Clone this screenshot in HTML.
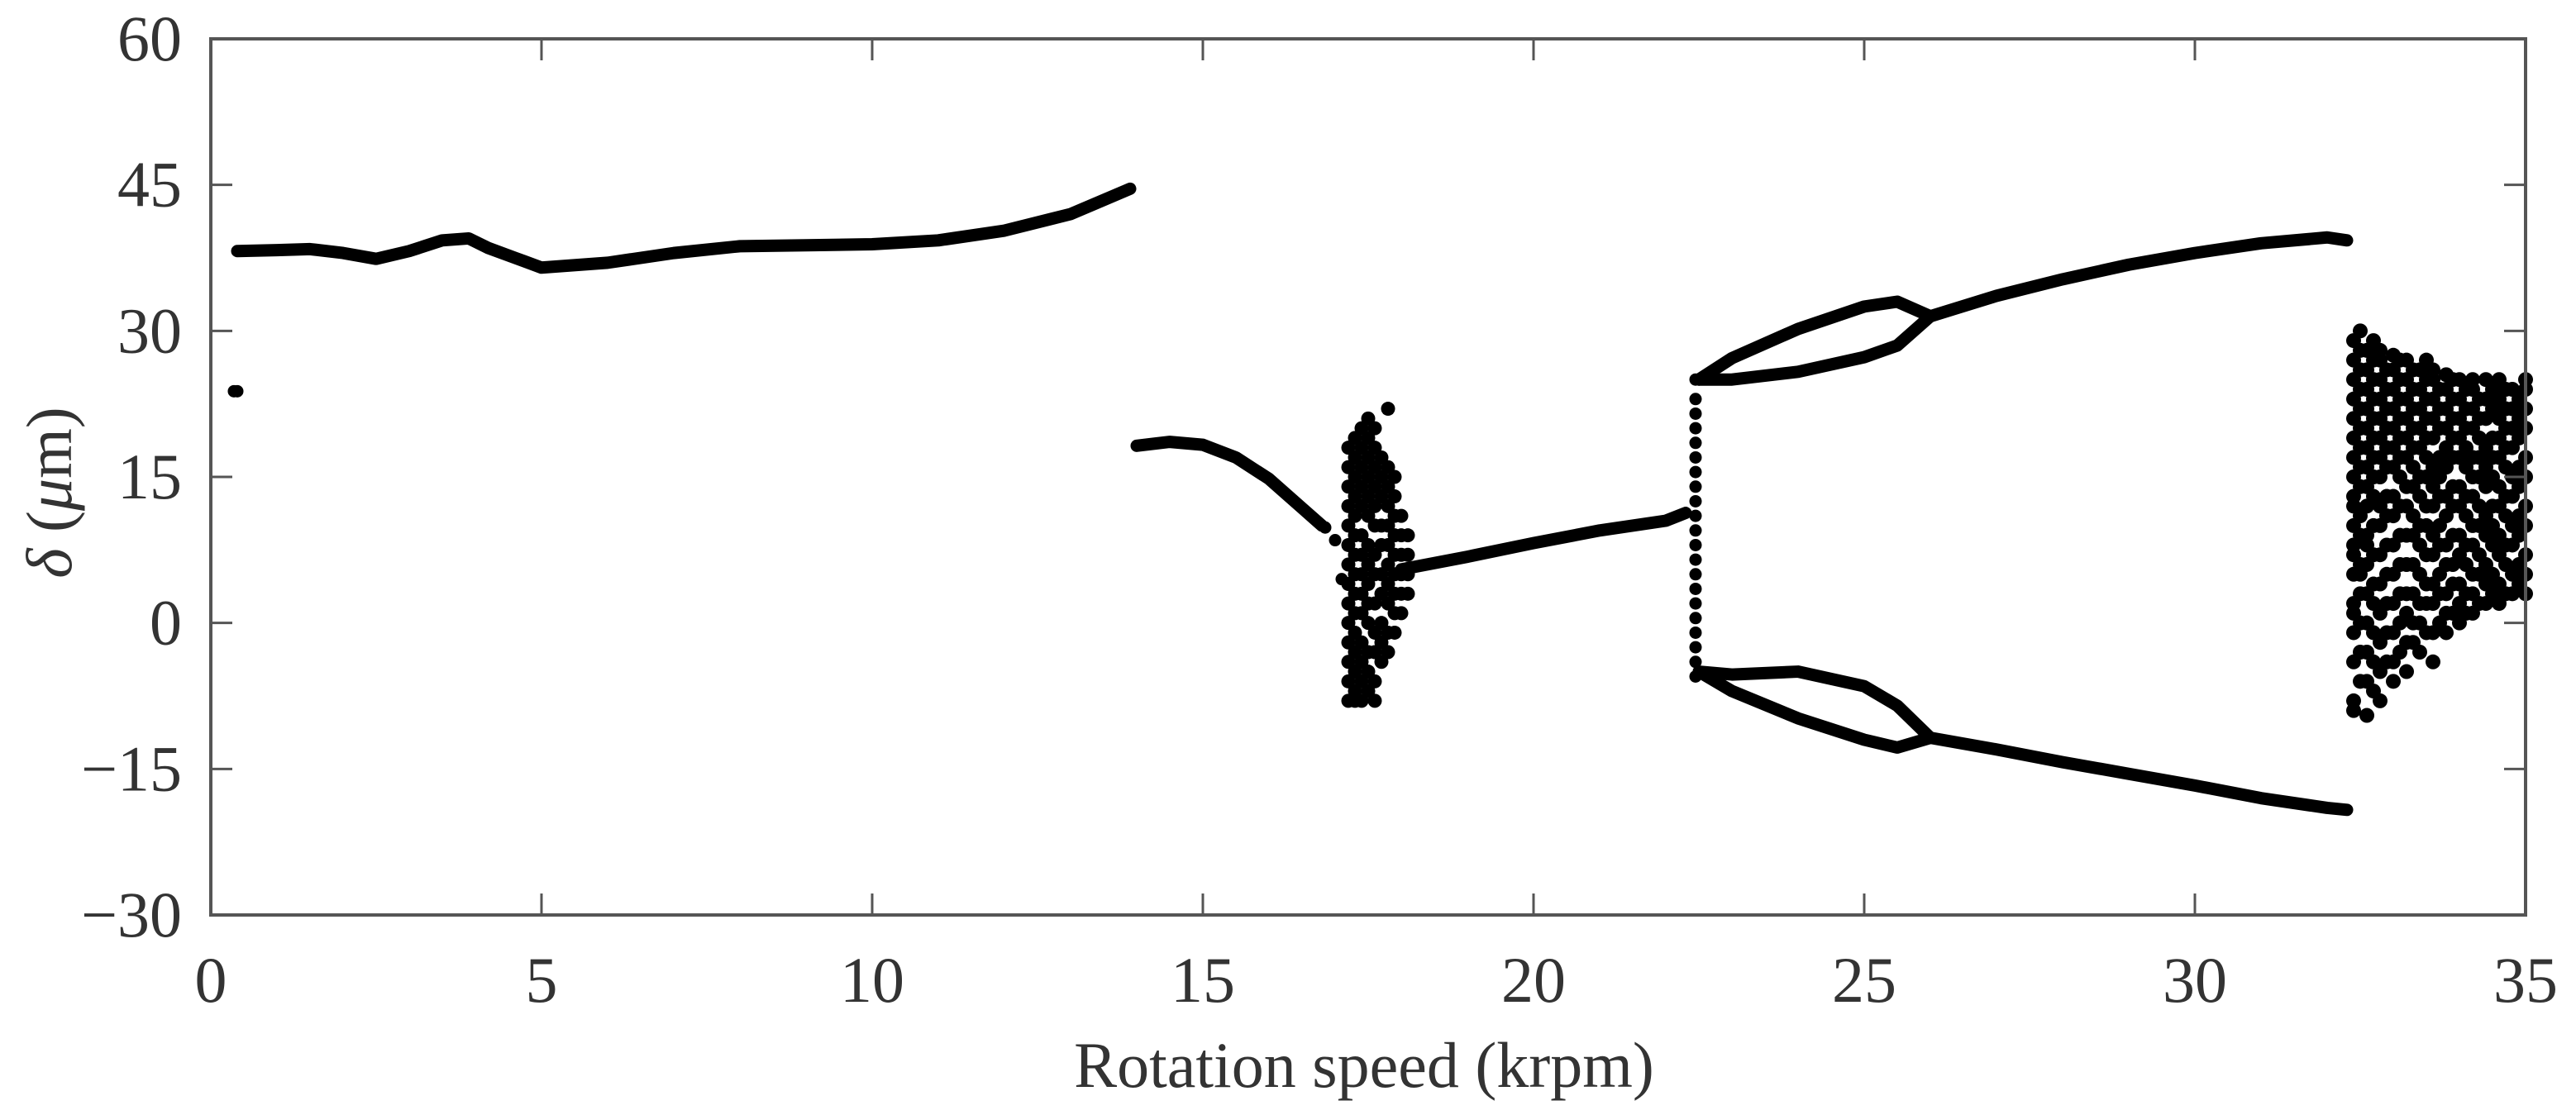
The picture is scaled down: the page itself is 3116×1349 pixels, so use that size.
<!DOCTYPE html>
<html><head><meta charset="utf-8"><style>
html,body{margin:0;padding:0;background:#fff}
svg{display:block}
text{font-family:"Liberation Serif",serif;fill:#333}
</style></head><body>
<svg id="chart" width="3116" height="1349" viewBox="0 0 3116 1349" xmlns="http://www.w3.org/2000/svg">
<g id="marks"></g>
<g id="axes"></g>
</svg>
<script>
const xTicks=[0,5,10,15,20,25,30,35];
const yTicks=[-30,-15,0,15,30,45,60];
const isoX=[0.35,0.4];
const isoY=[23.8,23.8];
const b1X=[0.4,1,1.5,2,2.5,3,3.5,3.9,4.2,4.6,5,6,7,8,9,10,11,12,13,13.9];
const b1Y=[38.2,38.3,38.4,38,37.4,38.2,39.3,39.5,38.5,37.5,36.5,37,38,38.7,38.8,38.9,39.3,40.3,42,44.6];
const b2X=[14,14.5,15,15.5,16,16.5,16.8];
const b2Y=[18.2,18.6,18.3,17,14.8,11.8,10];
const b2dX=[16.85,17.0,17.1];
const b2dY=[9.8,8.5,4.5];
const b3X=[18,19,20,21,22,22.3];
const b3Y=[5.5,6.8,8.2,9.5,10.5,11.3];
const vertX=22.45;
const vertY=[-5.5,-4,-2.5,-1,0.5,2,3.5,5,6.5,8,9.5,11,12.5,14,15.5,17,18.5,20,21.5,23,25];
const upOutX=[22.5,23,24,25,25.5,26];
const upOutY=[25,27.2,30.2,32.5,33,31.5];
const upInX=[22.5,23,24,25,25.5,26];
const upInY=[25,25,25.8,27.3,28.5,31.5];
const upX=[26,27,28,29,30,31,32,32.3];
const upY=[31.5,33.6,35.3,36.8,38,39,39.6,39.3];
const loOutX=[22.5,23,24,25,25.5,26];
const loOutY=[-5,-7,-9.8,-12,-12.8,-11.8];
const loInX=[22.5,23,24,25,25.5,26];
const loInY=[-5,-5.3,-5,-6.5,-8.5,-11.8];
const loX=[26,27,28,29,30,31,32,32.3];
const loY=[-11.8,-13,-14.3,-15.5,-16.7,-18,-19,-19.2];
const chaos1X=[17.2,17.3,17.4,17.5,17.6,17.7,17.8,17.9,18.0,18.1];
const chaos1Y=[
[-8,-6,-4,-2,0,2,4,6,8,10,12,14,16,18],
[-8,-7,-5,-3,-1,1,3,5,7,9,11,13,15,17,19],
[-8,-6,-4,-2,1,3,5,7,9,12,14,16,18,20],
[-7,-5,-3,0,2,4,6,8,11,13,15,17,19,21],
[-8,-6,-3,-1,2,5,7,10,12,14,16,18,20],
[-4,-2,0,3,5,8,10,13,15,17],
[-3,-1,2,4,6,8,10,12,14,16,22],
[-1,1,3,5,7,9,11,13,15],
[1,3,5,7,9,11],
[3,5,7,9]];
const chaos2X=[32.4,32.5,32.6,32.7,32.8,32.9,33.0,33.1,33.2,33.3,33.4,33.5,33.6,33.7,33.8,33.9,34.0,34.1,34.2,34.3,34.4,34.5,34.6,34.7,34.8,34.9,35.0];
const chaos2Y=[
[-9,-8,-4,-1,1,2,5,7,8,10,12,13,15,17,19,21,23,25,27,29],
[-6,-3,0,3,5,6,9,11,14,16,18,20,22,24,26,28,30],
[-9.5,-6,-3,0,3,6,8,9,12,14,16,18,20,22,24,26,28],
[-7,-4,-1,2,4,7,10,13,15,17,19,21,23,25,27,29],
[-8,-5,-2,1,4,7,10,12,15,17,19,21,23,25,27,28],
[-4,-1,2,5,8,11,13,16,18,20,22,24,26],
[-6,-4,-1,2,5,8,11,13,16,18,20,22,24,26,27.5],
[-3,0,3,6,9,12,15,17,19,21,23,25,27],
[-5,-2,1,3,6,9,12,14,17,19,21,23,25,27],
[-2,0,3,6,9,11,14,16,18,20,22,24,26],
[-3,0,2,5,8,10,13,15,18,20,22,24,26],
[-1,2,4,7,10,12,15,17,19,21,23,25,27],
[-4,-1,2,4,7,9,12,14,16,19,21,23,25,26],
[0,3,5,8,10,13,15,17,20,22,24],
[-1,1,3,6,8,11,13,16,18,20,22,24,25.5],
[1,4,6,9,12,14,17,19,21,23,25],
[0,2,4,7,9,12,14,17,19,21,23,25],
[1,3,6,8,11,13,16,18,20,22,24],
[1,3,5,8,10,13,15,17,20,22,24,25],
[2,5,7,10,12,15,17,19,21,23],
[2,4,6,9,11,14,16,18,21,23,25],
[3,5,8,10,12,15,17,19,22,24],
[2,4,7,9,12,14,17,19,21,23,25],
[3,6,8,11,13,16,18,20,22,24],
[3,5,8,10,13,15,18,20,22,24],
[4,6,9,11,14,16,19,21,23],
[3,5,7,10,12,15,17,20,22,24,25]];

const L=255,R=3055,T=47,B=1107;
const X=v=>L+(v-0)/(35-0)*(R-L);
const Y=v=>B-(v+30)/(60+30)*(B-T);
const NS="http://www.w3.org/2000/svg";
const marks=document.getElementById('marks');
const axes=document.getElementById('axes');
const DOT=7.5;
function dot(x,y,name,r){
  const c=document.createElementNS(NS,'circle');
  c.setAttribute('cx',X(x));c.setAttribute('cy',Y(y));c.setAttribute('r',r||DOT);c.setAttribute('fill','#000');
  
  
  marks.appendChild(c);
}
function branch(xs,ys,name){
  const p=document.createElementNS(NS,'polyline');
  p.setAttribute('points',xs.map((x,i)=>X(x)+','+Y(ys[i])).join(' '));
  p.setAttribute('fill','none');p.setAttribute('stroke','#000');p.setAttribute('stroke-width',DOT*2);
  p.setAttribute('stroke-linecap','round');p.setAttribute('stroke-linejoin','round');
  
  
  marks.appendChild(p);
}
isoX.forEach((x,i)=>dot(x,isoY[i],'isolated-point'));
branch(b1X,b1Y,'branch-low-speed');
branch(b2X,b2Y,'branch-mid-speed');
b2dX.forEach((x,i)=>dot(x,b2dY[i],'branch-mid-point'));
branch(b3X,b3Y,'branch-period1');
vertY.forEach(y=>dot(vertX,y,'jump-point'));
branch(upOutX,upOutY,'upper-outer-branch');
branch(upInX,upInY,'upper-inner-branch');
branch(upX,upY,'upper-branch');
branch(loOutX,loOutY,'lower-outer-branch');
branch(loInX,loInY,'lower-inner-branch');
branch(loX,loY,'lower-branch');
chaos1X.forEach((x,i)=>chaos1Y[i].forEach(y=>dot(x,y,'chaos-point-17krpm',8.5)));
chaos2X.forEach((x,i)=>chaos2Y[i].forEach(y=>dot(x,y,'chaos-point-33krpm',9)));

function el(tag,attrs,parent){const e=document.createElementNS(NS,tag);for(const k in attrs)e.setAttribute(k,attrs[k]);parent.appendChild(e);return e;}
const frame=el('rect',{x:L,y:T,width:R-L,height:B-T,fill:'none',stroke:'#555','stroke-width':4},axes);


xTicks.forEach(v=>{
  const t1=el('line',{x1:X(v),x2:X(v),y1:B,y2:B-26,stroke:'#555','stroke-width':3},axes);
  
  
  const t2=el('line',{x1:X(v),x2:X(v),y1:T,y2:T+26,stroke:'#555','stroke-width':3},axes);
  
  
  const tx=el('text',{x:X(v),y:1212,'font-size':78,'text-anchor':'middle'},axes);
  tx.textContent=v;
  
  
});
yTicks.forEach(v=>{
  const t1=el('line',{x1:L,x2:L+26,y1:Y(v),y2:Y(v),stroke:'#555','stroke-width':3},axes);
  
  
  const t2=el('line',{x1:R,x2:R-26,y1:Y(v),y2:Y(v),stroke:'#555','stroke-width':3},axes);
  
  
  const tx=el('text',{x:220,y:Y(v)+26,'font-size':78,'text-anchor':'end'},axes);
  tx.textContent=(v<0?'\u2212'+(-v):v);
  
  
});
const xl=el('text',{x:1650,y:1315,'font-size':78,'text-anchor':'middle'},axes);
xl.textContent='Rotation speed (krpm)';


const yl=el('text',{x:0,y:0,'font-size':78,'text-anchor':'middle',transform:'translate(86,596) rotate(-90)'},axes);
yl.innerHTML='<tspan font-style="italic">δ</tspan> (<tspan font-style="italic">μ</tspan>m)';


</script>
</body></html>
